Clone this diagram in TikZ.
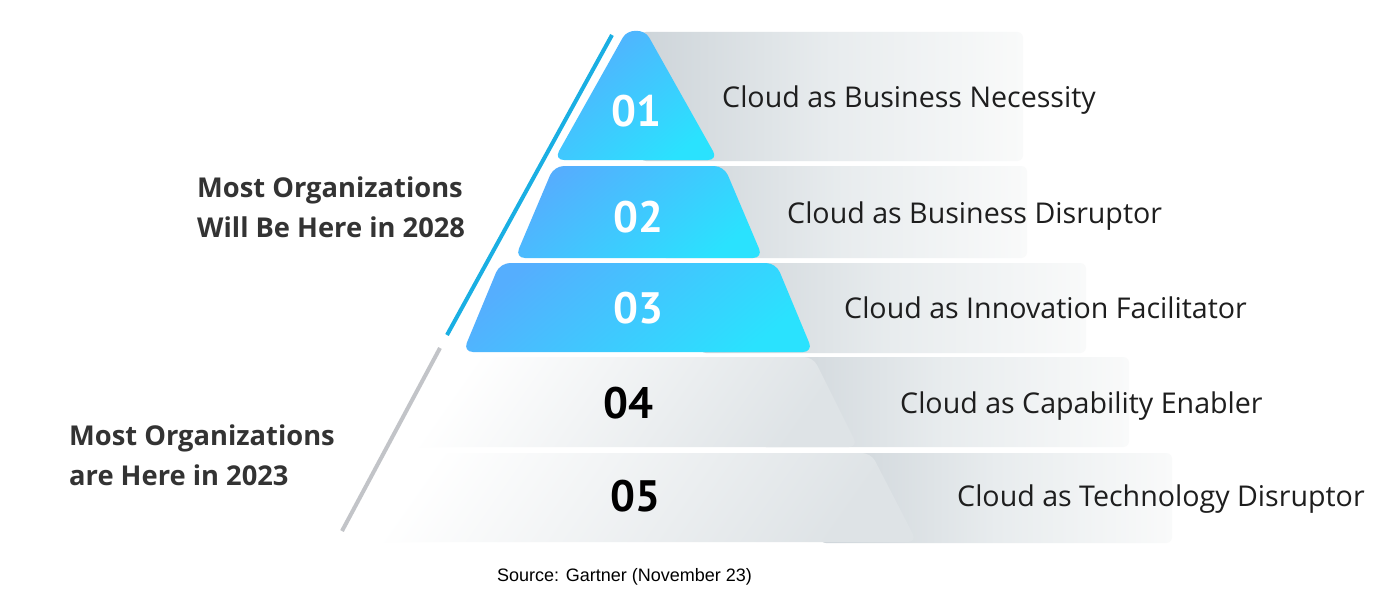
\documentclass[tikz,border=0pt]{standalone}
\usepackage{fontspec}
\setmainfont{Open Sans}
\newfontfamily\numfont{PT Sans}
\newfontfamily\srcfont{Liberation Sans}
\definecolor{blueA}{HTML}{55AEFE}
\definecolor{blueB}{HTML}{2AE2FE}
\definecolor{greyA}{HTML}{FFFFFF}
\definecolor{greyB}{HTML}{DEE3E6}
\definecolor{bandL}{HTML}{CDD4D9}
\definecolor{bandM}{HTML}{E8ECEE}
\definecolor{bandR}{HTML}{F9FAFA}
\definecolor{lineblue}{HTML}{1AAFE3}
\definecolor{linegrey}{HTML}{C2C4C8}
\definecolor{headc}{HTML}{333333}
\definecolor{labelc}{HTML}{1E1E1E}
\begin{document}
\begin{tikzpicture}[x=1pt,y=-1pt,
  band/.style={left color=bandL,right color=bandR,middle color=bandM,rounded corners=6pt},
  bluetier/.style={top color=blueA,bottom color=blueB,shading angle=40,rounded corners=10pt},
  greytier/.style={top color=greyA,bottom color=greyB,shading angle=55,rounded corners=9pt},
  lbl/.style={font=\fontsize{28.6}{32}\selectfont,text=labelc,anchor=base west,inner sep=0pt},
  head/.style={font=\fontsize{27.3}{30}\selectfont\bfseries,text=headc,anchor=base west,inner sep=0pt},
  numw/.style={font=\numfont\bfseries\fontsize{44}{48}\selectfont,text=white,inner sep=0pt},
  numk/.style={font=\numfont\bfseries\fontsize{44}{48}\selectfont,text=black,inner sep=0pt},
  sideline/.style={line width=4pt}]
\useasboundingbox[fill=white] (0,0) rectangle (1400,594);
% bands
\shade[band] (640,32) rectangle (1023,161);
\shade[band] (660,166) rectangle (1027,258);
\shade[band] (700,263) rectangle (1086,353);
\shade[band] (760,357) rectangle (1129,447);
\shade[band] (820,453) rectangle (1172,543);
% blue tiers
\shade[bluetier] (636,160) -- (554,160) -- (617.9,46.3) .. controls (627.9,28.5) and (644.1,28.5) .. (654.1,46.3) -- (718,160) -- cycle;
\shade[bluetier] (554,166) -- (724,166) -- (763,258) -- (515,258) -- cycle;
\shade[bluetier] (500,263) -- (776,263) -- (813,352) -- (463,352) -- cycle;
% grey tiers
\shade[greytier] (447,357) -- (813,357) -- (858,447) -- (402,447) -- cycle;
\shade[greytier] (395,453) -- (871,453) -- (917,542) -- (349,542) -- cycle;
% side lines
\coordinate (bt) at (612,35);
\coordinate (bb) at (447,335);
\coordinate (gt) at (440,348);
\coordinate (gb) at (342,531);
\draw[sideline,lineblue] (bt) -- (bb);
\draw[sideline,linegrey] (gt) -- (gb);
% numbers
\node[numw] (n1) at (636,111) {01};
\node[numw] (n2) at (638,217) {02};
\node[numw] (n3) at (638,308) {03};
\node[numk] (n4) at (628,403) {04};
\node[numk] (n5) at (635,496) {05};
% labels
\node[lbl] (l1) at (722,107) {Cloud as Business Necessity};
\node[lbl] (l2) at (787,223) {Cloud as Business Disruptor};
\node[lbl] (l3) at (844,318) {Cloud as Innovation Facilitator};
\node[lbl] (l4) at (900,413) {Cloud as Capability Enabler};
\node[lbl] (l5) at (957,506) {Cloud as Technology Disruptor};
% headings
\node[head] (h1a) at (197,197) {Most Organizations};
\node[head] (h1b) at (197,237) {Will Be Here in 2028};
\node[head] (h2a) at (69,445) {Most Organizations};
\node[head] (h2b) at (69,485) {are Here in 2023};
% source
\node[font=\srcfont\fontsize{18}{20}\selectfont,anchor=base west,inner sep=0pt] (src) at (497,581) {Source: Gartner (November 23)};
\end{tikzpicture}
\end{document}
